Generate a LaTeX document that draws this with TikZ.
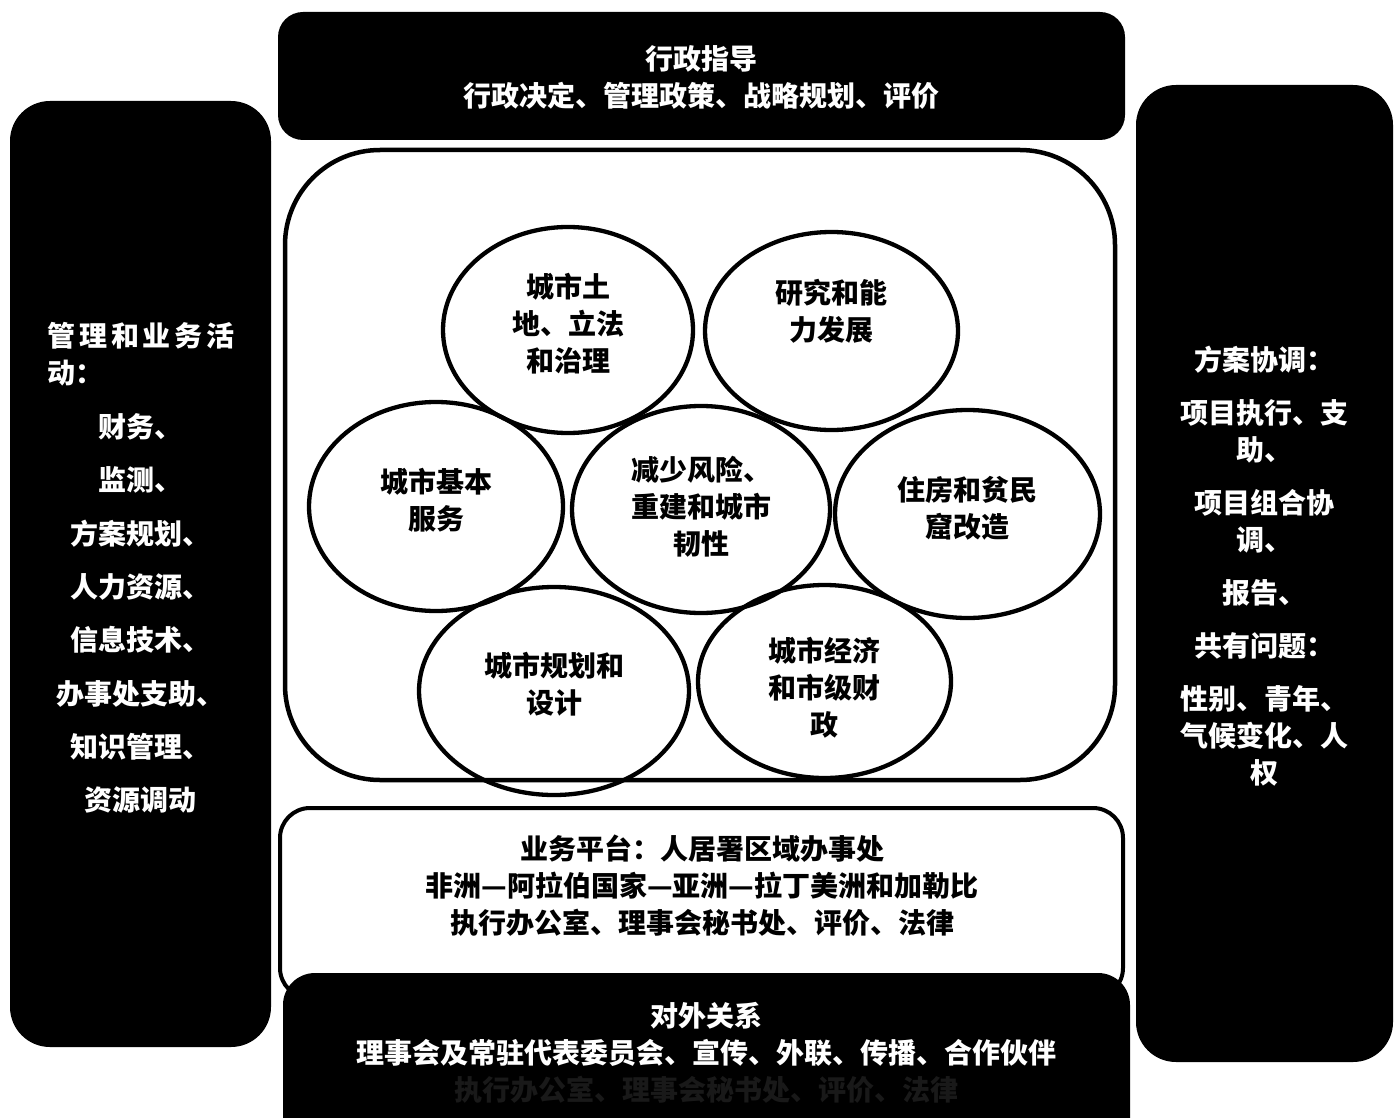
\documentclass[tikz,border=0pt]{standalone}
\usepackage{fontspec}
\setmainfont{Noto Sans CJK SC}
\newfontfamily\spacedcjk[LetterSpace=14]{Noto Sans CJK SC}
\usetikzlibrary{shapes.geometric}
\begin{document}
\begin{tikzpicture}[x=1pt,y=-1pt,
  blackbox/.style={fill=black, draw=none, rectangle, inner sep=0pt},
  whitebox/.style={fill=white, draw=black, rectangle, inner sep=0pt},
  txt/.style={font=\bfseries\fontsize{28}{37}\selectfont, align=center, inner sep=0pt},
  wtxt/.style={txt, text=white},
  oval/.style={draw=black, line width=4.3pt, ellipse, inner sep=0pt},
]
\useasboundingbox (0,0) rectangle (1399,1118);
\fill[white] (0,0) rectangle (1399,1118);

% side and top boxes
\node[blackbox, rounded corners=40pt, minimum width=261pt, minimum height=946pt] (leftbox) at (140.5,574) {};
\node[blackbox, rounded corners=40pt, minimum width=257pt, minimum height=977pt] (rightbox) at (1264.5,573.5) {};
\node[blackbox, rounded corners=25pt, minimum width=847pt, minimum height=128pt] (topbox) at (701.5,76) {};

% central white box
\node[whitebox, line width=4.5pt, rounded corners=95pt, minimum width=830pt, minimum height=630pt] (core) at (700,465) {};

% platform box and bottom box
\node[whitebox, line width=4pt, rounded corners=30pt, minimum width=843pt, minimum height=190pt] (platform) at (701.5,903) {};
\node[blackbox, rounded corners=32pt, minimum width=847pt, minimum height=180pt] (extbox) at (706.5,1063) {};

% ellipses
\node[oval, minimum width=250pt, minimum height=206pt] (e1) at (568,330) {};
\node[oval, minimum width=253pt, minimum height=198pt] (e2) at (831.5,331) {};
\node[oval, minimum width=254pt, minimum height=209pt] (e3) at (436,506.5) {};
\node[oval, minimum width=258pt, minimum height=207pt] (e4) at (701,509.5) {};
\node[oval, minimum width=265pt, minimum height=208pt] (e5) at (967.5,514) {};
\node[oval, minimum width=270pt, minimum height=208pt] (e6) at (554,691) {};
\node[oval, minimum width=253pt, minimum height=193pt] (e7) at (824.5,681.5) {};

% ellipse texts
\node[txt] (t1) at (568,324) {城市土\\地、立法\\和治理};
\node[txt] (t2) at (831,311.5) {研究和能\\力发展};
\node[txt] (t3) at (436,500.5) {城市基本\\服务};
\node[txt] (t4) at (701,507) {减少风险、\\重建和城市\\韧性};
\node[txt] (t5) at (967,508.5) {住房和贫民\\窟改造};
\node[txt] (t6) at (554,684.5) {城市规划和\\设计};
\node[txt] (t7) at (824,688) {城市经济\\和市级财\\政};

% top box text
\node[wtxt] (toptxt) at (701.5,77.5) {行政指导\\行政决定、管理政策、战略规划、评价};

% left box text
\node[wtxt, align=left, anchor=west] (lefthead) at (47,354.5) {\spacedcjk\bfseries 管理和业务活\\动：};
\node[wtxt, font=\bfseries\fontsize{28}{53.3}\selectfont] (leftlist) at (140,613.5)
  {财务、\\监测、\\方案规划、\\人力资源、\\信息技术、\\办事处支助、\\知识管理、\\资源调动};

% right box text
\node[wtxt] (righttxt) at (1264,566)
  {方案协调：\\[16pt]项目执行、支\\助、\\[16pt]项目组合协\\调、\\[16pt]报告、\\[16pt]共有问题：\\[16pt]性别、青年、\\气候变化、人\\权};

% platform text
\node[txt] (plattxt) at (702,886) {业务平台：人居署区域办事处\\非洲—阿拉伯国家—亚洲—拉丁美洲和加勒比\\执行办公室、理事会秘书处、评价、法律};

% external relations text
\node[wtxt] (exttxt) at (706,1053) {对外关系\\理事会及常驻代表委员会、宣传、外联、传播、合作伙伴\\{\color{black!90}执行办公室、理事会秘书处、评价、法律}};
\end{tikzpicture}
\end{document}
